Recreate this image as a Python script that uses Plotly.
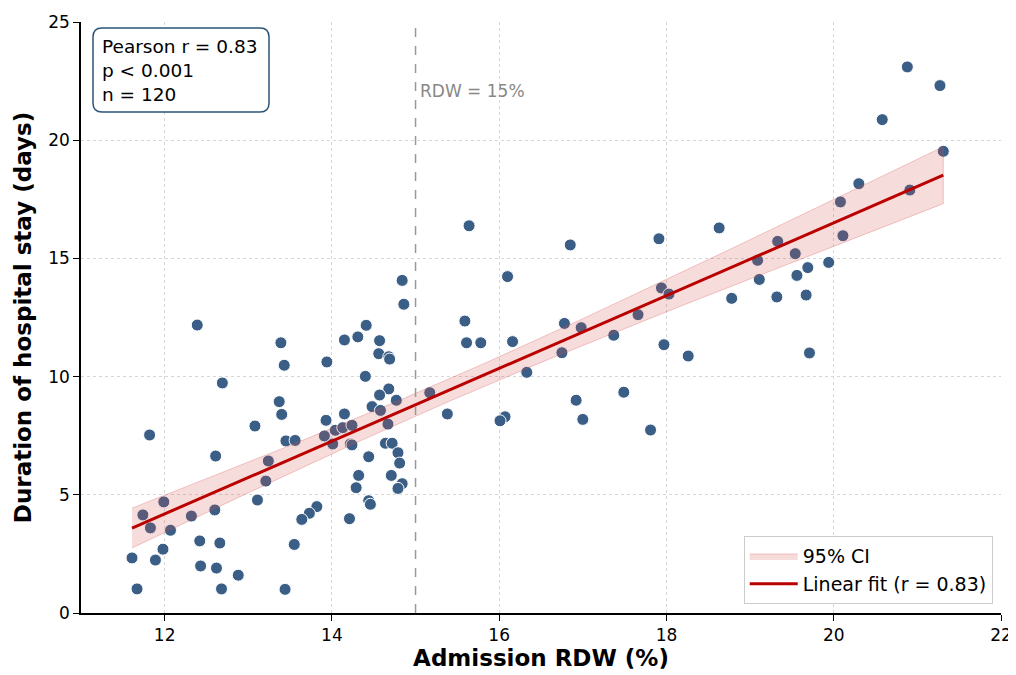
import numpy as np
import plotly.graph_objects as go

rdw = [11.61, 11.67, 11.74, 11.82, 11.83, 11.89, 11.98, 11.99, 12.07, 12.32,
       12.39, 12.42, 12.43, 12.60, 12.61, 12.62, 12.66, 12.68, 12.69, 12.88,
       13.08, 13.11, 13.21, 13.24, 13.39, 13.43, 13.37, 13.40, 13.45, 13.44,
       13.55, 14.84, 14.86, 14.41, 14.15, 14.31, 14.57, 14.56, 14.68, 14.69,
       13.94, 14.40, 14.68, 14.57, 14.77, 14.48, 14.58, 13.93, 14.15, 14.67,
       14.04, 14.13, 14.24, 13.91, 14.01, 14.22, 14.24, 14.64, 14.72, 13.56,
       14.44, 14.79, 14.81, 14.32, 14.71, 14.29, 14.84, 14.79, 14.44, 14.46,
       13.82, 13.73, 13.64, 14.21, 15.17, 15.38, 15.64, 16.85, 16.10, 15.59,
       15.61, 15.78, 16.16, 16.78, 16.98, 17.66, 17.37, 16.75, 16.33, 16.07,
       16.01, 16.92, 17.00, 17.49, 17.81, 20.88, 21.27, 20.58, 21.31, 20.91,
       20.30, 20.08, 20.11, 19.94, 19.69, 19.54, 19.33, 19.09, 19.11, 19.56,
       19.32, 19.67, 18.78, 18.63, 17.91, 17.94, 18.03, 17.97, 18.26, 19.71]
stay = [2.33, 1.02, 4.15, 7.53, 3.60, 2.24, 2.70, 4.70, 3.50, 4.10,
        12.18, 3.05, 1.99, 4.36, 6.64, 1.90, 2.96, 1.02, 9.73, 1.60,
        7.91, 4.78, 5.58, 6.43, 11.43, 10.48, 8.94, 8.40, 7.28, 1.00,
        2.90, 14.07, 13.06, 12.17, 11.55, 11.68, 11.52, 10.97, 10.84, 10.74,
        10.62, 10.01, 9.48, 9.22, 9.00, 8.73, 8.57, 8.15, 8.42, 7.99,
        7.73, 7.84, 7.94, 7.49, 7.15, 7.15, 7.11, 7.18, 7.18, 7.30,
        6.61, 6.78, 6.34, 5.82, 5.82, 5.30, 5.47, 5.27, 4.75, 4.60,
        4.50, 4.22, 3.96, 3.99, 9.32, 8.42, 16.38, 15.57, 14.23, 12.35,
        11.43, 11.43, 11.48, 12.25, 12.07, 12.62, 11.75, 11.01, 10.18, 8.30,
        8.13, 9.00, 8.19, 9.34, 7.74, 23.10, 22.31, 20.87, 19.53, 17.89,
        18.16, 17.39, 15.96, 14.83, 14.61, 15.20, 15.72, 14.92, 14.11, 14.28,
        13.37, 13.45, 13.31, 16.29, 15.83, 13.75, 13.49, 11.35, 10.87, 11.00]

x_ticks = [12, 14, 16, 18, 20, 22]
y_ticks = [0, 5, 10, 15, 20, 25]
threshold = 15
stats_text = "Pearson r = 0.83<br>p < 0.001<br>n = 120"

x = np.array(rdw)
y = np.array(stay)
n = len(x)
slope, intercept = np.polyfit(x, y, 1)
xs = np.linspace(x.min(), x.max(), 100)
yhat = slope * xs + intercept
resid = y - (slope * x + intercept)
s = np.sqrt(np.sum(resid ** 2) / (n - 2))
sxx = np.sum((x - x.mean()) ** 2)
se = s * np.sqrt(1 / n + (xs - x.mean()) ** 2 / sxx)
t = 1.98
upper = yhat + t * se
lower = yhat - t * se

fig = go.Figure()
fig.add_trace(go.Scatter(
    x=x, y=y, mode="markers", showlegend=False,
    marker=dict(size=12, color="#3a5e85", line=dict(color="white", width=1)),
))
fig.add_trace(go.Scatter(
    x=np.concatenate([xs, xs[::-1]]), y=np.concatenate([upper, lower[::-1]]),
    fill="toself", fillcolor="rgba(214,80,80,0.2)",
    line=dict(color="rgba(214,80,80,0.3)", width=1),
    mode="lines", name="95% CI", hoverinfo="skip",
))
fig.add_trace(go.Scatter(
    x=xs, y=yhat, mode="lines", name="Linear fit (r = 0.83)",
    line=dict(color="#bb0000", width=3),
))

fig.add_shape(type="line", x0=threshold, x1=threshold, y0=0, y1=1,
              xref="x", yref="paper",
              line=dict(color="#999999", width=1.5, dash="dash"))
fig.add_annotation(x=threshold, y=22.1, xref="x", yref="y", text="RDW = 15%",
                   showarrow=False, xanchor="left", xshift=2,
                   font=dict(size=17, color="#888888"))

# page has an 8px body margin; compensate so the plot lands where the reference has it
OFF = 8
FW, FH = 1016 - OFF, 675 - OFF
L, R, T, B = 81 - OFF, 1001 - OFF, 22 - OFF, 613 - OFF
W, H = float(R - L), float(B - T)
def px2paper(px, py):
    return (px - OFF - L) / W, (B - (py - OFF)) / H
x0p, y1p = px2paper(93, 28)
x1p, y0p = px2paper(269, 112)
rx, ry = 9 / W, 9 / H
path = (f"M {x0p+rx},{y1p} L {x1p-rx},{y1p} Q {x1p},{y1p} {x1p},{y1p-ry} "
        f"L {x1p},{y0p+ry} Q {x1p},{y0p} {x1p-rx},{y0p} "
        f"L {x0p+rx},{y0p} Q {x0p},{y0p} {x0p},{y0p+ry} "
        f"L {x0p},{y1p-ry} Q {x0p},{y1p} {x0p+rx},{y1p} Z")
fig.add_shape(type="path", path=path, xref="paper", yref="paper",
              line=dict(color="#2a5478", width=1.5), fillcolor="white", layer="above")
fig.add_annotation(x=px2paper(100, 0)[0], y=(y0p + y1p) / 2, xref="paper", yref="paper",
                   text=stats_text, showarrow=False, xanchor="left", yanchor="middle",
                   align="left", font=dict(size=18.5, color="black"))

axis_common = dict(
    showline=True, linecolor="black", linewidth=1.5,
    ticks="outside", ticklen=6, tickwidth=1.2, tickcolor="black",
    showgrid=True, gridcolor="#d6d6d6", griddash="dot", gridwidth=1,
    zeroline=False, tickfont=dict(size=17, color="black"), automargin=False,
)
fig.update_xaxes(range=[11, 22], tickvals=x_ticks,
                 title=dict(text="<b>Admission RDW (%)</b>", font=dict(size=23, color="black"), standoff=6),
                 **axis_common)
fig.update_yaxes(range=[0, 25], tickvals=y_ticks,
                 title=dict(text="<b>Duration of hospital stay (days)</b>", font=dict(size=23, color="black"), standoff=10),
                 **axis_common)

fig.update_layout(
    width=FW, height=FH,
    margin=dict(l=L, r=FW - R, t=T, b=FH - B),
    plot_bgcolor="white", paper_bgcolor="white",
    font=dict(family="DejaVu Sans", color="black"),
    legend=dict(x=0.991, y=0.015, xanchor="right", yanchor="bottom",
                bgcolor="white", bordercolor="#cccccc", borderwidth=1,
                itemwidth=48, font=dict(size=19)),
)

fig.write_html("out.html")
